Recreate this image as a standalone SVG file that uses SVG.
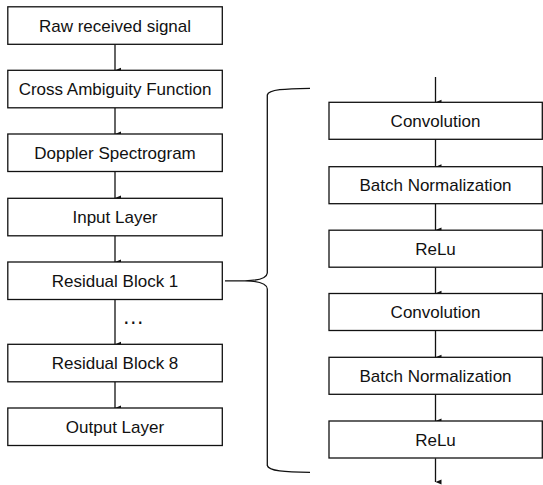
<svg xmlns="http://www.w3.org/2000/svg" width="543" height="485" viewBox="0 0 543 485">
<defs>
<marker id="ah" markerUnits="userSpaceOnUse" markerWidth="6" markerHeight="7" refX="3" refY="6" orient="auto" viewBox="0 0 6 7">
<path d="M0.5,0 L5.5,0 L3,6 Z" fill="#111"/>
</marker>
<style>
.box{fill:#fff;stroke:#111;stroke-width:1.3}
.lbl{font-family:"Liberation Sans",Arial,sans-serif;font-size:17px;fill:#111;text-anchor:middle}
.con{stroke:#111;stroke-width:1.3;fill:none}
</style>
</defs>
<rect width="543" height="485" fill="#fff"/>
<g id="connectors">
<line class="con" x1="115" y1="44.3" x2="115" y2="70.3" marker-end="url(#ah)"/>
<line class="con" x1="115" y1="108" x2="115" y2="134" marker-end="url(#ah)"/>
<line class="con" x1="115" y1="171.7" x2="115" y2="198" marker-end="url(#ah)"/>
<line class="con" x1="115" y1="236" x2="115" y2="262" marker-end="url(#ah)"/>
<line class="con" x1="115" y1="299.5" x2="115" y2="344.3" marker-end="url(#ah)"/>
<line class="con" x1="115" y1="381.7" x2="115" y2="408" marker-end="url(#ah)"/>
<line class="con" x1="435.5" y1="77" x2="435.5" y2="102.3" marker-end="url(#ah)"/>
<line class="con" x1="435.5" y1="139.3" x2="435.5" y2="166.7" marker-end="url(#ah)"/>
<line class="con" x1="435.5" y1="203.5" x2="435.5" y2="230" marker-end="url(#ah)"/>
<line class="con" x1="435.5" y1="267.3" x2="435.5" y2="293.3" marker-end="url(#ah)"/>
<line class="con" x1="435.5" y1="330.7" x2="435.5" y2="357.3" marker-end="url(#ah)"/>
<line class="con" x1="435.5" y1="394.3" x2="435.5" y2="421" marker-end="url(#ah)"/>
<line class="con" x1="435.5" y1="458.3" x2="435.5" y2="482" marker-end="url(#ah)"/>
<path id="brace" class="con" d="M310,88.3 C285,88.6 268.5,89.5 267.3,95 L267.3,273 C266.8,279 258,280.6 245,280.8 L225,280.8 M245,280.8 C258,281 266.8,282.8 267.3,289 L267.3,465.5 C268.5,471 285,472 310,472.3"/>
</g>
<g id="n1"><rect class="box" x="7.8" y="6.8" width="214.5" height="37.5"/><text class="lbl" x="115" y="31.7">Raw received signal</text></g>
<g id="n2"><rect class="box" x="7.8" y="70.3" width="214.5" height="37.5"/><text class="lbl" x="115" y="95.2">Cross Ambiguity Function</text></g>
<g id="n3"><rect class="box" x="7.8" y="134" width="214.5" height="37.5"/><text class="lbl" x="115" y="158.9">Doppler Spectrogram</text></g>
<g id="n4"><rect class="box" x="7.8" y="198.3" width="214.5" height="37.5"/><text class="lbl" x="115" y="223.2">Input Layer</text></g>
<g id="n5"><rect class="box" x="7.8" y="262" width="214.5" height="37.5"/><text class="lbl" x="115" y="286.9">Residual Block 1</text></g>
<g id="dots"><text x="122.3" y="323.5" font-family="'Liberation Sans',Arial,sans-serif" font-size="22" fill="#111">…</text></g>
<g id="n6"><rect class="box" x="7.8" y="344.3" width="214.5" height="37.5"/><text class="lbl" x="115" y="369.2">Residual Block 8</text></g>
<g id="n7"><rect class="box" x="7.8" y="408" width="214.5" height="37.5"/><text class="lbl" x="115" y="432.9">Output Layer</text></g>
<g id="r1"><rect class="box" x="329" y="102.3" width="213.3" height="37"/><text class="lbl" x="435.5" y="126.9">Convolution</text></g>
<g id="r2"><rect class="box" x="329" y="166.7" width="213.3" height="37"/><text class="lbl" x="435.5" y="191.3">Batch Normalization</text></g>
<g id="r3"><rect class="box" x="329" y="230.2" width="213.3" height="37"/><text class="lbl" x="435.5" y="254.8">ReLu</text></g>
<g id="r4"><rect class="box" x="329" y="293.5" width="213.3" height="37"/><text class="lbl" x="435.5" y="318.1">Convolution</text></g>
<g id="r5"><rect class="box" x="329" y="357.3" width="213.3" height="37"/><text class="lbl" x="435.5" y="381.9">Batch Normalization</text></g>
<g id="r6"><rect class="box" x="329" y="421" width="213.3" height="37"/><text class="lbl" x="435.5" y="445.6">ReLu</text></g>
</svg>
